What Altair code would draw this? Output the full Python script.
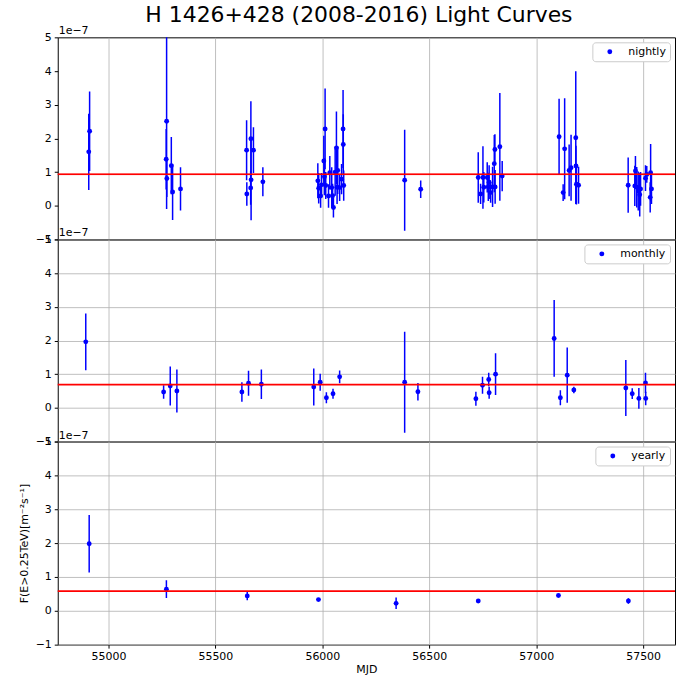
import altair as alt
import pandas as pd

# ---------------- data (flux in units of 1e-7 m^-2 s^-1) ----------------
nightly_mjd = [54908, 54912,
               55270, 55272, 55273, 55294, 55300, 55337,
               55646, 55647, 55665, 55666, 55667, 55678, 55722,
               55979, 55983, 55992, 55996, 56007, 56010, 56013, 56016, 56029, 56035,
               56044, 56048, 56052, 56060, 56066, 56069, 56072, 56081, 56090, 56097,
               56098, 56100,
               56385, 56460,
               56729, 56740, 56751, 56755, 56771, 56776, 56780, 56787, 56796, 56804,
               56807, 56808, 56830, 56841,
               57107, 57126, 57133, 57154, 57163, 57185, 57186, 57188, 57198,
               57430, 57461, 57464, 57470, 57477, 57484, 57488, 57511, 57517, 57533,
               57535, 57539]
nightly_flux = [1.60, 2.21,
                1.38, 2.51, 0.81, 1.19, 0.41, 0.50,
                1.65, 0.35, 0.53, 1.99, 0.77, 1.65, 0.71,
                0.74, 0.52, 0.29, 0.62, 1.33, 0.86, 2.28, 0.60, 0.29, 0.98,
                0.54, 0.30, -0.05, 1.00, 1.72, 0.55, 1.05, 0.54, 0.79, 2.28,
                1.82, 0.60,
                0.76, 0.49,
                0.84, 0.35, 0.84, 0.55, 0.84, 0.56, 0.70, 0.39, 0.56, 1.25,
                1.67, 0.56, 1.75, 0.88,
                2.05, 0.39, 1.69, 1.05, 1.13, 2.02, 1.18, 0.64, 0.61,
                0.61, 0.59, 1.03, 0.55, 0.44, 0.33, 0.50, 0.82, 0.93, 0.25,
                0.98, 0.50]
nightly_err = [1.13, 1.18,
               0.90, 2.61, 0.55, 0.85, 0.83, 0.64,
               0.89, 0.35, 0.50, 1.11, 1.20, 0.68, 0.43,
               0.52, 0.45, 0.35, 0.35, 0.75, 0.55, 1.20, 0.40, 0.35, 0.50,
               0.60, 0.35, 0.30, 0.70, 1.08, 0.50, 0.70, 0.40, 0.45, 1.16,
               0.90, 0.45,
               1.50, 0.26,
               0.75, 0.30, 0.93, 0.45, 0.45, 0.42, 0.50, 0.30, 0.60, 0.85,
               0.45, 0.50, 1.60, 0.45,
               1.13, 0.25, 1.50, 0.77, 0.98, 1.97, 0.60, 0.60, 0.55,
               0.82, 0.60, 0.45, 0.60, 0.58, 0.65, 0.50, 0.38, 0.25, 0.45,
               0.85, 0.45]

monthly_mjd = [54894, 55258, 55289, 55320, 55624, 55655, 55715, 55960, 55990, 56019,
               56050, 56081, 56385, 56447, 56718, 56749, 56778, 56780, 56810, 57084,
               57113, 57145, 57176, 57419, 57449, 57480, 57511, 57512]
monthly_flux = [1.96, 0.47, 0.65, 0.50, 0.47, 0.73, 0.70, 0.62, 0.76, 0.30,
                0.42, 0.92, 0.76, 0.48, 0.27, 0.67, 0.84, 0.45, 1.00, 2.06,
                0.30, 0.97, 0.53, 0.59, 0.42, 0.28, 0.74, 0.28]
monthly_err = [0.84, 0.20, 0.58, 0.64, 0.29, 0.37, 0.44, 0.55, 0.25, 0.16,
               0.15, 0.19, 1.50, 0.26, 0.21, 0.25, 0.20, 0.18, 0.62, 1.14,
               0.22, 0.82, 0.10, 0.83, 0.16, 0.31, 0.30, 0.20]

yearly_mjd = [54910, 55271, 55649, 55982, 56345, 56729, 57104, 57431]
yearly_flux = [1.98, 0.64, 0.44, 0.33, 0.22, 0.29, 0.45, 0.29]
yearly_err = [0.85, 0.26, 0.13, 0.04, 0.17, 0.04, 0.04, 0.08]

panel_names = ["nightly", "monthly", "yearly"]
panel_means = [0.935, 0.69, 0.58]
panel_band = [0.03, 0.0, 0.0]

x_ticks = [55000, 55500, 56000, 56500, 57000, 57500]
y_ticks = [-1, 0, 1, 2, 3, 4, 5]
x_domain = [54763, 57649]
y_domain = [-1, 5]

title_text = "H 1426+428 (2008-2016) Light Curves"
y_title = "F(E>0.25TeV)[m⁻²s⁻¹]"
x_title = "MJD"
offset_text = "1e−7"

W = 620
HEIGHTS = [203, 203, 204]
FONT = "DejaVu Sans"


def panel(name, mjd, flux, err, mean, band, height, bottom):
    df = pd.DataFrame({"mjd": mjd, "flux": flux, "err": err})
    df["lo"] = df["flux"] - df["err"]
    df["hi"] = df["flux"] + df["err"]
    df["series"] = name

    if bottom:
        xaxis = alt.Axis(values=x_ticks, format="d", title=x_title, tickSize=3.5,
                         labelPadding=2, titlePadding=2)
        yaxis = alt.Axis(values=y_ticks, format="d", title=y_title, tickSize=3.5,
                         labelPadding=3, titlePadding=6)
    else:
        xaxis = alt.Axis(values=x_ticks, labels=False, ticks=False, title=None)
        yaxis = alt.Axis(values=y_ticks, format="d", title=None, tickSize=3.5,
                         labelPadding=3)

    xs = alt.Scale(domain=x_domain, nice=False, zero=False)
    ys = alt.Scale(domain=y_domain, nice=False, zero=False)

    base = alt.Chart(df)
    layers = []
    if band > 0:
        layers.append(
            alt.Chart(pd.DataFrame({"a": [0]})).mark_rect(color="#ff0000", opacity=0.3).encode(
                x=alt.value(0), x2=alt.value(W),
                y=alt.datum(mean - band, scale=ys, axis=yaxis),
                y2=alt.datum(mean + band),
            )
        )
    errs = base.mark_rule(color="blue", strokeWidth=1.5, clip=True).encode(
        x=alt.X("mjd:Q", scale=xs, axis=xaxis),
        y=alt.Y("lo:Q", scale=ys, axis=yaxis),
        y2="hi:Q",
    )
    pts = base.mark_circle(size=24, opacity=1, clip=True).encode(
        x=alt.X("mjd:Q", scale=xs, axis=xaxis),
        y=alt.Y("flux:Q", scale=ys, axis=yaxis),
        color=alt.Color(
            "series:N",
            scale=alt.Scale(domain=[name], range=["blue"]),
            legend=alt.Legend(title=None, orient="top-right", offset=5,
                              fillColor="white", strokeColor="#cccccc",
                              cornerRadius=3, padding=4, labelFontSize=11,
                              labelFont=FONT, symbolSize=24, symbolType="circle",
                              symbolOffset=8, labelOffset=13),
        ),
    )
    mean_line = alt.Chart(pd.DataFrame({"a": [0]})).mark_rule(color="#ff0000", strokeWidth=1.6).encode(
        y=alt.datum(mean, scale=ys, axis=yaxis)
    )
    offset = alt.Chart(pd.DataFrame({"t": [offset_text]})).mark_text(
        align="left", baseline="bottom", fontSize=11, font=FONT, color="black"
    ).encode(x=alt.value(1), y=alt.value(-1), text="t:N")

    layers += [errs, pts, mean_line, offset]
    return alt.layer(*layers).properties(width=W, height=height)


p1 = panel("nightly", nightly_mjd, nightly_flux, nightly_err, panel_means[0], panel_band[0], HEIGHTS[0], False)
p2 = panel("monthly", monthly_mjd, monthly_flux, monthly_err, panel_means[1], panel_band[1], HEIGHTS[1], False)
p3 = panel("yearly", yearly_mjd, yearly_flux, yearly_err, panel_means[2], panel_band[2], HEIGHTS[2], True)

chart = (
    alt.vconcat(p1, p2, p3, spacing=0, bounds="flush")
    .resolve_scale(color="independent")
    .resolve_legend(color="independent")
    .properties(
        title=alt.TitleParams(title_text, fontSize=22, font=FONT, fontWeight="normal",
                              anchor="middle", color="black", offset=-2, dx=12),
        padding={"left": 17, "top": 2, "right": 0, "bottom": 0},
    )
    .configure_axis(labelFontSize=11, titleFontSize=11, titleFontWeight="normal",
                    labelFont=FONT, titleFont=FONT, labelColor="black", titleColor="black",
                    tickColor="black", gridColor="#b0b0b0", gridWidth=0.8, domain=False)
    .configure_view(stroke="black", strokeWidth=1)
)

chart.save("out.html", embed_options={"renderer": "svg", "actions": False})
